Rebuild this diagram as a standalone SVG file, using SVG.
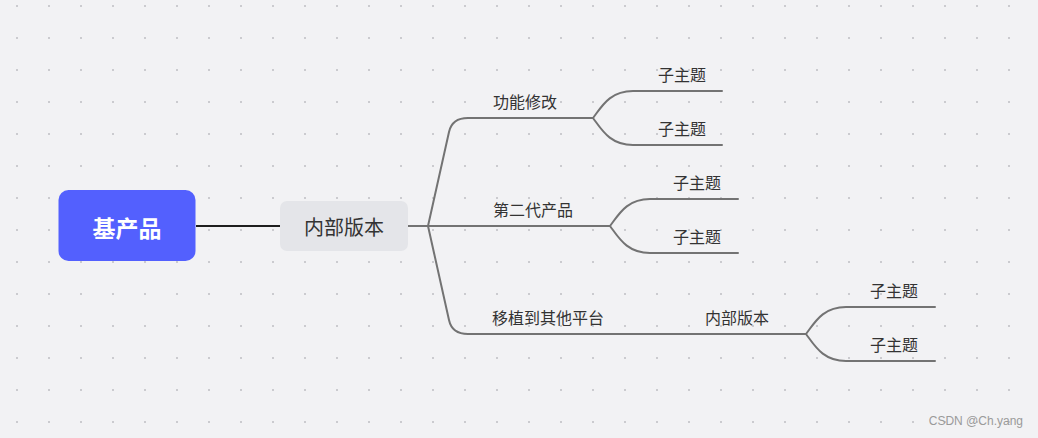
<svg xmlns="http://www.w3.org/2000/svg" width="1038" height="438" viewBox="0 0 1038 438">
<defs>
<pattern id="dots" width="32" height="32" patternUnits="userSpaceOnUse"><rect x="16" y="5" width="2" height="2" fill="#cbcbcf"/></pattern>
<style>
.t{font-family:"Noto Sans CJK SC","Noto Sans",sans-serif;fill:#333;text-anchor:middle;dominant-baseline:central}
.br{fill:none;stroke:#737373;stroke-width:2;stroke-linecap:round;stroke-linejoin:round}
</style>
</defs>
<rect width="1038" height="438" fill="#f2f2f4"/>
<rect width="1038" height="438" fill="url(#dots)"/>
<g id="connectors">
<line x1="196" y1="226" x2="280" y2="226" stroke="#1e1e1e" stroke-width="2"/>
<path class="br" d="M408 226 H428"/>
<path class="br" d="M428 226 L449 132 Q452 118 468 118 H593"/>
<path class="br" d="M428 226 H610"/>
<path class="br" d="M428 226 L449 320 Q452 334 468 334 H806"/>
<path class="br" d="M593 118 C602 106 610 91 633 91 H722"/>
<path class="br" d="M593 118 C602 130 610 145 633 145 H722"/>
<path class="br" d="M610 226 C619 214 627 199 650 199 H738"/>
<path class="br" d="M610 226 C619 238 627 253 650 253 H738"/>
<path class="br" d="M806 334 C815 322 823 307 846 307 H935"/>
<path class="br" d="M806 334 C815 346 823 361 846 361 H935"/>
</g>
<g id="root">
<rect x="58.5" y="190" width="137" height="71" rx="10" fill="#5360fe"/>
<text class="t" x="127" y="227" font-size="23" font-weight="bold" style="fill:#fff">基产品</text>
</g>
<g id="n-neibu">
<rect x="280" y="201" width="128" height="50" rx="7" fill="#e4e5e9"/>
<text class="t" x="344" y="226" font-size="20">内部版本</text>
</g>
<g id="n-gongneng"><text class="t" x="525" y="101" font-size="16">功能修改</text></g>
<g id="n-gongneng-1"><text class="t" x="682" y="74" font-size="16">子主题</text></g>
<g id="n-gongneng-2"><text class="t" x="682" y="128" font-size="16">子主题</text></g>
<g id="n-dierdai"><text class="t" x="533" y="209" font-size="16">第二代产品</text></g>
<g id="n-dierdai-1"><text class="t" x="697" y="182" font-size="16">子主题</text></g>
<g id="n-dierdai-2"><text class="t" x="697" y="236" font-size="16">子主题</text></g>
<g id="n-yizhi"><text class="t" x="548" y="317" font-size="16">移植到其他平台</text></g>
<g id="n-yizhi-neibu"><text class="t" x="737" y="317" font-size="16">内部版本</text></g>
<g id="n-yizhi-1"><text class="t" x="894" y="290" font-size="16">子主题</text></g>
<g id="n-yizhi-2"><text class="t" x="894" y="344" font-size="16">子主题</text></g>
<text x="1023" y="421" font-family="Liberation Sans, Arial, sans-serif" font-size="12" fill="#9a9a9a" text-anchor="end" dominant-baseline="central">CSDN @Ch.yang</text>
</svg>
